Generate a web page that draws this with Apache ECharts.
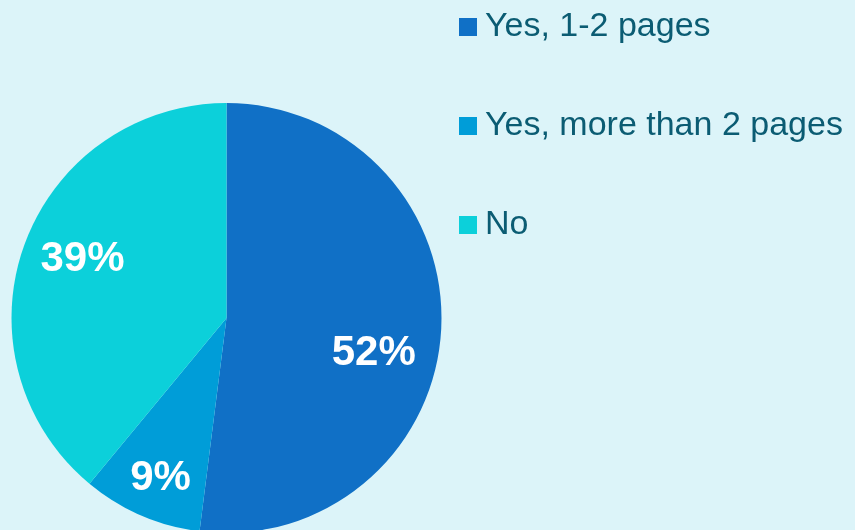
<!DOCTYPE html>
<html>
<head>
<meta charset="utf-8">
<style>
  html, body { margin: 0; padding: 0; background: #DCF4F9; }
  #chart { width: 855px; height: 530px; }
</style>
<script src="https://cdn.jsdelivr.net/npm/echarts@6/dist/echarts.min.js"></script>
</head>
<body>
<div id="chart"></div>
<script>
// Survey answers and their shares (percent)
const categories = ['Yes, 1-2 pages', 'Yes, more than 2 pages', 'No'];
const shares = [52, 9, 39];
const sliceColors = ['#1070C6', '#009DD8', '#0CD0DA'];

// Nudges for the in-slice percentage labels (dx, dy in px)
const labelNudges = [[37, 28], [-22, 59], [-40, -21]];

const chart = echarts.init(document.getElementById('chart'), null, { renderer: 'canvas' });

chart.setOption({
  backgroundColor: '#DCF4F9',
  animation: false,
  legend: {
    orient: 'vertical',
    left: 459,
    top: 10,
    padding: 0,
    itemWidth: 18,
    itemHeight: 18,
    itemGap: 65,
    icon: 'rect',
    selectedMode: false,
    data: categories,
    textStyle: {
      fontFamily: 'Liberation Sans, Arial, sans-serif',
      fontSize: 34,
      color: '#0B5C73',
      padding: [0, 0, 0, 3]
    }
  },
  series: [{
    type: 'pie',
    center: [226.5, 318],
    radius: 215,
    startAngle: 90,
    clockwise: true,
    silent: true,
    avoidLabelOverlap: false,
    itemStyle: { borderWidth: 0 },
    label: {
      show: true,
      position: 'inside',
      formatter: '{c}%',
      color: '#FFFFFF',
      fontFamily: 'Liberation Sans, Arial, sans-serif',
      fontWeight: 'bold',
      fontSize: 42
    },
    labelLine: { show: false },
    labelLayout: function (params) {
      const n = labelNudges[params.dataIndex];
      return { dx: n[0], dy: n[1] };
    },
    data: categories.map((name, i) => ({
      name: name,
      value: shares[i],
      itemStyle: { color: sliceColors[i] }
    }))
  }]
});
</script>
</body>
</html>
